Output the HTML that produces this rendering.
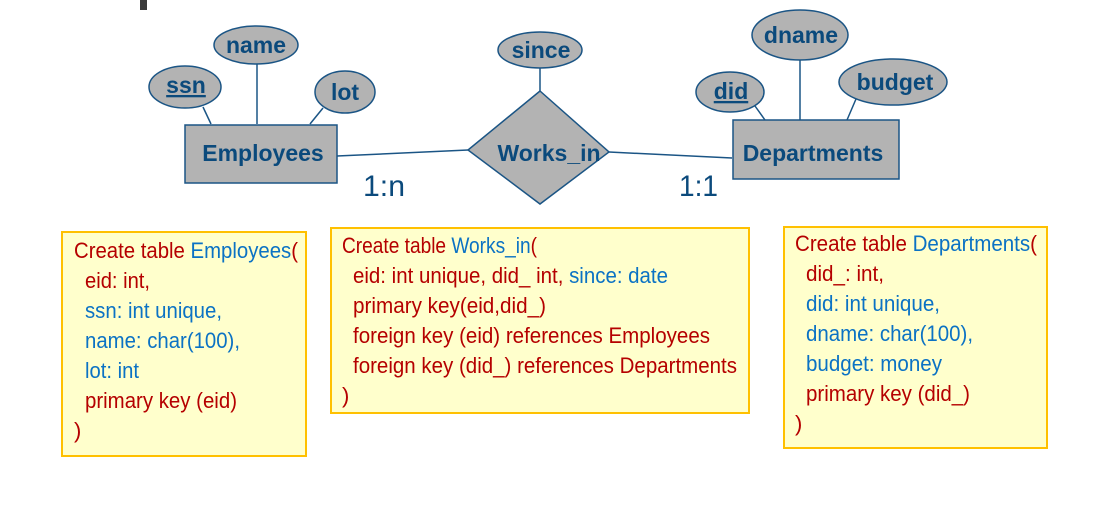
<!DOCTYPE html>
<html><head><meta charset="utf-8"><style>
html,body{margin:0;padding:0;background:#fff;}
svg{display:block;}
.er{font-family:"Liberation Sans",sans-serif;font-weight:bold;fill:#0b4a7c;}
.t{font-family:"Liberation Sans",sans-serif;font-size:22px;}
.r{fill:#b50000;} .b{fill:#0b72c4;}
</style></head><body>
<svg width="1097" height="507" viewBox="0 0 1097 507" xmlns="http://www.w3.org/2000/svg">
<rect x="140" y="0" width="7" height="10" fill="#3a3a3a"/>
<g stroke="#1b5585" stroke-width="1.5" fill="none">
<line x1="203" y1="107" x2="211" y2="124"/>
<line x1="257" y1="63" x2="257" y2="124"/>
<line x1="323" y1="108" x2="310" y2="124"/>
<line x1="540" y1="68" x2="540" y2="91"/>
<line x1="337" y1="156" x2="468" y2="150"/>
<line x1="609" y1="152" x2="732" y2="158"/>
<line x1="755" y1="106" x2="765" y2="120"/>
<line x1="800" y1="59" x2="800" y2="120"/>
<line x1="856" y1="99" x2="847" y2="120"/>
</g>
<g fill="#b3b3b3" stroke="#1b5585" stroke-width="1.5">
<rect x="185" y="125" width="152" height="58"/>
<ellipse cx="185" cy="87" rx="36" ry="21"/>
<ellipse cx="256" cy="45" rx="42" ry="19"/>
<ellipse cx="345" cy="92" rx="30" ry="21"/>
<ellipse cx="540" cy="50" rx="42" ry="18"/>
<polygon points="540,91 609,152 540,204 468,150"/>
<rect x="733" y="120" width="166" height="59"/>
<ellipse cx="730" cy="92" rx="34" ry="20"/>
<ellipse cx="800" cy="35" rx="48" ry="25"/>
<ellipse cx="893" cy="82" rx="54" ry="23"/>
</g>
<g class="er" font-size="23" text-anchor="middle">
<text x="263" y="161">Employees</text>
<text x="186" y="93" text-decoration="underline">ssn</text>
<text x="256" y="53">name</text>
<text x="345" y="100">lot</text>
<text x="541" y="58">since</text>
<text x="549" y="161">Works_in</text>
<text x="813" y="161">Departments</text>
<text x="731" y="99" text-decoration="underline">did</text>
<text x="801" y="43">dname</text>
<text x="895" y="90">budget</text>
</g>
<g font-family="Liberation Sans,sans-serif" font-size="30" fill="#0b4a7c">
<text x="363" y="196" textLength="42" lengthAdjust="spacingAndGlyphs">1:n</text>
<text x="679" y="196" textLength="39" lengthAdjust="spacingAndGlyphs">1:1</text>
</g>
<g fill="#ffffcc" stroke="#ffc000" stroke-width="2">
<rect x="62" y="232" width="244" height="224"/>
<rect x="331" y="228" width="418" height="185"/>
<rect x="784" y="227" width="263" height="221"/>
</g>
<g class="t">
<text x="74" y="258" textLength="224" lengthAdjust="spacingAndGlyphs"><tspan class="r">Create table </tspan><tspan class="b">Employees</tspan><tspan class="r">(</tspan></text>
<text x="85" y="288" class="r" textLength="65" lengthAdjust="spacingAndGlyphs">eid: int,</text>
<text x="85" y="318" class="b" textLength="137" lengthAdjust="spacingAndGlyphs">ssn: int unique,</text>
<text x="85" y="348" class="b" textLength="155" lengthAdjust="spacingAndGlyphs">name: char(100),</text>
<text x="85" y="378" class="b" textLength="54" lengthAdjust="spacingAndGlyphs">lot: int</text>
<text x="85" y="408" class="r" textLength="152" lengthAdjust="spacingAndGlyphs">primary key (eid)</text>
<text x="74" y="438" class="r">)</text>

<text x="342" y="253" textLength="195" lengthAdjust="spacingAndGlyphs"><tspan class="r">Create table </tspan><tspan class="b">Works_in</tspan><tspan class="r">(</tspan></text>
<text x="353" y="283" textLength="315" lengthAdjust="spacingAndGlyphs"><tspan class="r">eid: int unique, did_ int, </tspan><tspan class="b">since: date</tspan></text>
<text x="353" y="313" class="r" textLength="193" lengthAdjust="spacingAndGlyphs">primary key(eid,did_)</text>
<text x="353" y="343" class="r" textLength="357" lengthAdjust="spacingAndGlyphs">foreign key (eid) references Employees</text>
<text x="353" y="373" class="r" textLength="384" lengthAdjust="spacingAndGlyphs">foreign key (did_) references Departments</text>
<text x="342" y="403" class="r">)</text>

<text x="795" y="251" textLength="242" lengthAdjust="spacingAndGlyphs"><tspan class="r">Create table </tspan><tspan class="b">Departments</tspan><tspan class="r">(</tspan></text>
<text x="806" y="281" class="r" textLength="78" lengthAdjust="spacingAndGlyphs">did_: int,</text>
<text x="806" y="311" class="b" textLength="134" lengthAdjust="spacingAndGlyphs">did: int unique,</text>
<text x="806" y="341" class="b" textLength="167" lengthAdjust="spacingAndGlyphs">dname: char(100),</text>
<text x="806" y="371" class="b" textLength="136" lengthAdjust="spacingAndGlyphs">budget: money</text>
<text x="806" y="401" class="r" textLength="164" lengthAdjust="spacingAndGlyphs">primary key (did_)</text>
<text x="795" y="431" class="r">)</text>
</g>
</svg>
</body></html>
